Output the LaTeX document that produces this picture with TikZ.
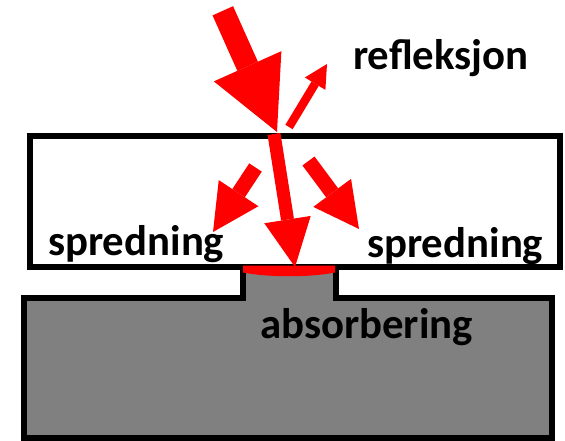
\documentclass[tikz,border=0pt]{standalone}
\usepackage{fontspec}
\setmainfont{Carlito}
\usetikzlibrary{arrows.meta}
\definecolor{blockgray}{RGB}{128,128,128}
\definecolor{beamred}{RGB}{255,0,0}
\tikzset{
  x=1pt, y=-1pt,
  border/.style={draw=black, line width=6pt, line join=miter},
  beam/.style={draw=beamred, line cap=butt},
  lbl/.style={anchor=base west, inner sep=0pt, font=\fontsize{42.8}{50}\selectfont\bfseries},
}
\begin{document}
\begin{tikzpicture}
\useasboundingbox (0,0) rectangle (565,441);
% gray substrate with neck
\path[border, fill=blockgray] (24,298) -- (242.5,298) -- (242.5,267) -- (336,267) -- (336,298) -- (552,298) -- (552,438) -- (24,438) -- cycle;
% white slab
\path[border, fill=white] (30,136.5) rectangle (560,267);
% coordinates
\coordinate (inS) at (222.8,10.8);
\coordinate (inT) at (277,132);
\coordinate (rfS) at (289,127);
\coordinate (rfT) at (327,64);
\coordinate (trS) at (274,134);
\coordinate (trT) at (295,267);
\coordinate (lS) at (255.5,167.5);
\coordinate (lT) at (213,232);
\coordinate (rS) at (308.5,161);
\coordinate (rT) at (359,229);
% beams
\draw[beam, line width=22.5pt, -{Triangle[length=72pt,width=74pt,line width=0pt]}] (inS) -- (inT);
\draw[beam, line width=8.5pt, -{Triangle[length=23pt,width=24pt,line width=0pt]}] (rfS) -- (rfT);
\draw[beam, line width=13pt, -{Triangle[length=48pt,width=47pt,line width=0pt]}] (trS) -- (trT);
\draw[beam, line width=15pt, -{Triangle[length=46.5pt,width=47.5pt,line width=0pt]}] (lS) -- (lT);
\draw[beam, line width=15pt, -{Triangle[length=45pt,width=47pt,line width=0pt]}] (rS) -- (rT);
% absorbed layer
\fill[beamred] (243,265.5) -- (335,265.5) -- (335,272.5) .. controls (310,277.5) and (268,277.5) .. (243,272.5) -- cycle;
% labels
\node[lbl] (refl) at (353,70) {refleksjon};
\node[lbl] (spl) at (48,255) {spredning};
\node[lbl] (spr) at (367,257) {spredning};
\node[lbl] (abs) at (260,338) {absorbering};
\end{tikzpicture}
\end{document}
